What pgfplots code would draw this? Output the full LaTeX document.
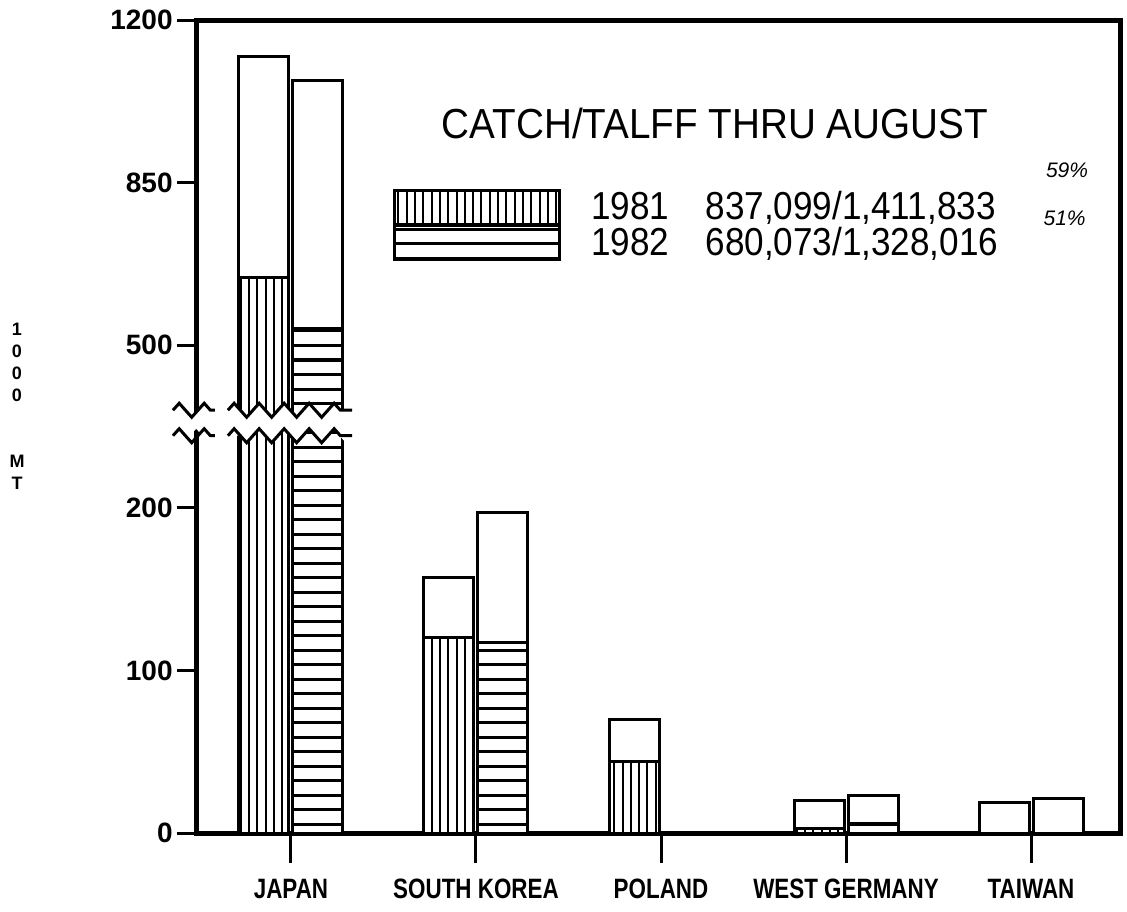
\documentclass[border=0pt]{standalone}
\usepackage{fontspec}
\setmainfont{Liberation Sans}
\newfontfamily\narrowfont{Liberation Sans}[FakeStretch=0.8]
\newfontfamily\titlefont{Liberation Sans}[FakeStretch=0.92]
\newfontfamily\legfont{Liberation Sans}[FakeStretch=0.9]
\usepackage{pgfplots}
\usepackage{pgfplotstable}
\pgfplotsset{compat=1.18}
\usetikzlibrary{patterns,decorations.pathmorphing}

\pgfdeclarepatternformonly{hstripes}{\pgfqpoint{-1pt}{-2pt}}{\pgfqpoint{11pt}{2pt}}{\pgfqpoint{10pt}{7.25pt}}%
  {\pgfsetlinewidth{1.5pt}\pgfpathmoveto{\pgfqpoint{-1pt}{0pt}}\pgfpathlineto{\pgfqpoint{11pt}{0pt}}\pgfusepath{stroke}}
\pgfdeclarepatternformonly{vstripes}{\pgfqpoint{-2pt}{-1pt}}{\pgfqpoint{2pt}{11pt}}{\pgfqpoint{4.15pt}{10pt}}%
  {\pgfsetlinewidth{1pt}\pgfpathmoveto{\pgfqpoint{0pt}{-1pt}}\pgfpathlineto{\pgfqpoint{0pt}{11pt}}\pgfusepath{stroke}}

% 1981: TALFF total and catch (1000 MT)
\pgfplotstableread{
x total catch
1 1122 645
2 157 120
3 70 44
4 20 3
5 19 0
}\tabA
% 1982
\pgfplotstableread{
x total catch
1 1069 537
2 197 117
4 23 6
5 21 0
}\tabB

\pgfplotsset{
  legbox/.style={legend image code/.code={\draw[##1,line width=1.5pt] (0pt,-8.5pt) rectangle (82.5pt,8.5pt);}},
}

\begin{document}
\begin{tikzpicture}
\useasboundingbox (-98.5pt,-39pt) rectangle (465pt,416.5pt);
\begin{axis}[
  at={(0,0)}, anchor=south west, scale only axis,
  width=461.5pt, height=406.5pt,
  xmin=0.492, xmax=5.481, ymin=0, ymax=1200,
  y coord trafo/.code={\pgfmathparse{#1<=200 ? #1/100 : (#1<=500 ? 2+(#1-200)/300 : 3+(#1-500)/350)}},
  ytick={0,100,200,500,850,1200},
  yticklabels={0,100,200,500,850,1200},
  xtick=\empty,
  extra x ticks={1,2,3,4,5},
  extra x tick labels={JAPAN,SOUTH KOREA,POLAND,WEST GERMANY,TAIWAN},
  extra x tick style={major tick length=15pt, tick style={line width=1.5pt, black},
    xticklabel style={font=\narrowfont\bfseries\fontsize{14}{14}\selectfont, inner sep=0pt, anchor=north, yshift=-8pt}},
  tick pos=left, tick align=outside,
  axis line style={line width=2.5pt},
  major tick length=10pt,
  ytick style={line width=1.5pt, black},
  yticklabel style={font=\bfseries\fontsize{14}{14}\selectfont, inner sep=0pt, anchor=east, xshift=-2pt},
  clip=false,
  legend style={at={(0.2124,0.7946)}, anchor=north west, draw=none, fill=none,
    inner sep=0pt, row sep=-1.8pt, font=\legfont\fontsize{19.5}{19.5}\selectfont},
  legend cell align=left,
]
\addplot[ybar, bar width=25pt, bar shift=-13.5pt, fill=white, draw=black, line width=1.5pt, forget plot]
  table[x=x,y=total]{\tabA};
\addplot[ybar, bar width=25pt, bar shift=-13.5pt, draw=black, line width=1.5pt,
  pattern=vstripes, legbox]
  table[x=x,y=catch]{\tabA};
\addlegendentry{\hspace*{13pt}1981\hspace{18pt}837,099/1,411,833}
\addplot[ybar, bar width=25pt, bar shift=13.5pt, fill=white, draw=black, line width=1.5pt, forget plot]
  table[x=x,y=total]{\tabB};
\addplot[ybar, bar width=25pt, bar shift=13.5pt, draw=black, line width=1.5pt,
  pattern=hstripes, legbox]
  table[x=x,y=catch]{\tabB};
\addlegendentry{\hspace*{13pt}1982\hspace{18pt}680,073/1,328,016}

% axis break
\tikzset{zz/.style={decoration={zigzag,segment length=12.5pt,amplitude=3.5pt}}}
\fill[white] (axis cs:0.659,380) decorate[zz]{-- (axis cs:1.33,380)} -- (axis cs:1.33,333) decorate[zz]{-- (axis cs:0.659,333)} -- cycle;
\draw[line width=1.5pt,zz,decorate] (axis cs:0.659,380) -- (axis cs:1.33,380);
\draw[line width=1.5pt,zz,decorate] (axis cs:0.659,333) -- (axis cs:1.33,333);
\fill[white] (axis cs:0.362,380) decorate[zz]{-- (axis cs:0.589,380)} -- (axis cs:0.589,333) decorate[zz]{-- (axis cs:0.362,333)} -- cycle;
\draw[line width=1.5pt,zz,decorate] (axis cs:0.362,380) -- (axis cs:0.589,380);
\draw[line width=1.5pt,zz,decorate] (axis cs:0.362,333) -- (axis cs:0.589,333);

\node[font=\titlefont\fontsize{21}{21}\selectfont] at (axis description cs:0.561,0.873) {CATCH/TALFF THRU AUGUST};
\node[font=\itshape\fontsize{10.5}{10.5}\selectfont] at (axis description cs:0.9426,0.815) {59\%};
\node[font=\itshape\fontsize{10.5}{10.5}\selectfont] at (axis description cs:0.940,0.756) {51\%};
\node[font=\bfseries\fontsize{9}{11}\selectfont, align=center] at (axis description cs:-0.195,0.525) {1\\0\\0\\0\\[22pt]M\\T};
\end{axis}
\end{tikzpicture}
\end{document}
